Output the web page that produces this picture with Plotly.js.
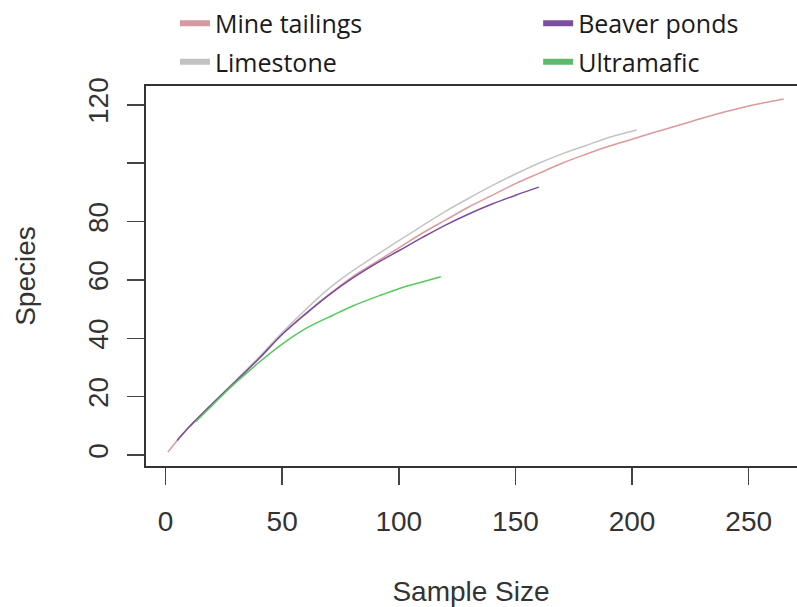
<!DOCTYPE html>
<html>
<head>
<meta charset="utf-8">
<script src="https://cdn.plot.ly/plotly-3.0.1.min.js"></script>
<style>html,body{margin:0;padding:0;background:#fff;}#chart{width:797px;height:607px;}</style>
</head>
<body>
<div id="chart"></div>
<script>
// Rarefaction curves: sample size vs species
const mineX = [1, 5, 10, 20, 30, 40, 50, 60, 70, 80, 90, 100, 110, 120, 130, 140, 150, 160, 170, 180, 190, 200, 210, 220, 230, 240, 250, 265];
const mineY = [1, 5, 9.5, 17.5, 25.2, 33, 41.5, 48.5, 55, 61, 66, 71, 76, 80.5, 85, 89, 93, 96.5, 100, 103, 105.8, 108.2, 110.7, 113, 115.4, 117.6, 119.6, 122];

const limeX = [5, 10, 20, 30, 40, 50, 60, 70, 80, 90, 100, 110, 120, 130, 140, 150, 160, 170, 180, 190, 202];
const limeY = [5, 9.5, 17.6, 25.5, 33.5, 42, 49.8, 57, 63, 68.3, 73.5, 78.5, 83.5, 88, 92.3, 96.3, 100, 103.2, 106, 108.8, 111.4];

const beaverX = [5, 10, 20, 30, 40, 50, 60, 70, 80, 90, 100, 110, 120, 130, 140, 150, 160];
const beaverY = [5, 9.5, 17.5, 25.2, 33, 41.3, 48.3, 54.8, 60.5, 65.5, 70, 74.5, 78.8, 82.6, 86, 89, 91.8];

const ultraX = [13, 20, 29, 40, 50, 60, 72, 80, 93, 100, 110, 118];
const ultraY = [11.5, 17, 24, 31.7, 38, 43.3, 48, 51, 55, 57, 59.3, 61.1];

const seriesNames = ["Mine tailings", "Limestone", "Beaver ponds", "Ultramafic"];
const xTicks = [0, 50, 100, 150, 200, 250];
const yTicks = [0, 20, 40, 60, 80, 100, 120];
const yTickText = ["0", "20", "40", "60", "80", "", "120"];

const colMine = "#dc9a9e", colLime = "#c4c4c4", colBeaver = "#7a4c9e", colUltra = "#55c95a";
const legendColors = ["#d49aa2", "#c2c2c2", "#7b4f9e", "#5dba6c"];

const curves = [
  {x: mineX, y: mineY, c: colMine},
  {x: limeX, y: limeY, c: colLime},
  {x: beaverX, y: beaverY, c: colBeaver},
  {x: ultraX, y: ultraY, c: colUltra}
];
const traces = [];
curves.forEach((s, i) => {
  traces.push({type: "scatter", mode: "lines", x: s.x, y: s.y, name: seriesNames[i],
    line: {color: s.c, width: 1.5, shape: "spline", smoothing: 1}, showlegend: false, hoverinfo: "skip"});
});
// legend entries (thick swatches, like the original)
const legendOf = ["legend", "legend", "legend2", "legend2"];
seriesNames.forEach((n, i) => {
  traces.push({type: "scatter", mode: "lines", x: [null], y: [null], name: n,
    line: {color: legendColors[i], width: 6}, showlegend: true, legend: legendOf[i], legendgroup: "g" + i});
});

const axisFont = {family: "Liberation Sans, Arial, sans-serif", size: 28, color: "#333"};
const legFont = {family: "Open Sans, sans-serif", size: 25, color: "#1a1a1a"};

const layout = {
  width: 797, height: 607,
  margin: {l: 145, r: 0, t: 85, b: 140},
  paper_bgcolor: "#fff", plot_bgcolor: "#fff",
  xaxis: {
    range: [-8.8, 270.7], tickvals: xTicks, ticktext: xTicks.map(String),
    ticks: "outside", ticklen: 17, tickwidth: 1.5, tickcolor: "#444",
    showgrid: false, zeroline: false, showline: false,
    tickfont: axisFont, ticklabelstandoff: 12,
    title: {text: "Sample Size", font: axisFont, standoff: 46}
  },
  yaxis: {
    range: [-4.1, 126.8], tickvals: yTicks, ticktext: yTickText,
    ticks: "outside", ticklen: 17, tickwidth: 1.5, tickcolor: "#444",
    showgrid: false, zeroline: false, showline: false,
    tickangle: -90, tickfont: axisFont, ticklabelstandoff: 8,
    title: {text: "Species", font: axisFont, standoff: 38}
  },
  shapes: [{type: "rect", xref: "paper", yref: "paper", x0: 0, x1: 1.1, y0: 0, y1: 1,
    line: {color: "#333", width: 2}}],
  legend: {x: 0.046, y: 1.221, xanchor: "left", yanchor: "top", font: legFont,
    bgcolor: "rgba(0,0,0,0)", tracegroupgap: 3, itemwidth: 30},
  legend2: {x: 0.603, y: 1.221, xanchor: "left", yanchor: "top", font: legFont,
    bgcolor: "rgba(0,0,0,0)", tracegroupgap: 3, itemwidth: 30},
  showlegend: true
};

Plotly.newPlot("chart", traces, layout, {displayModeBar: false, staticPlot: true});
</script>
</body>
</html>
